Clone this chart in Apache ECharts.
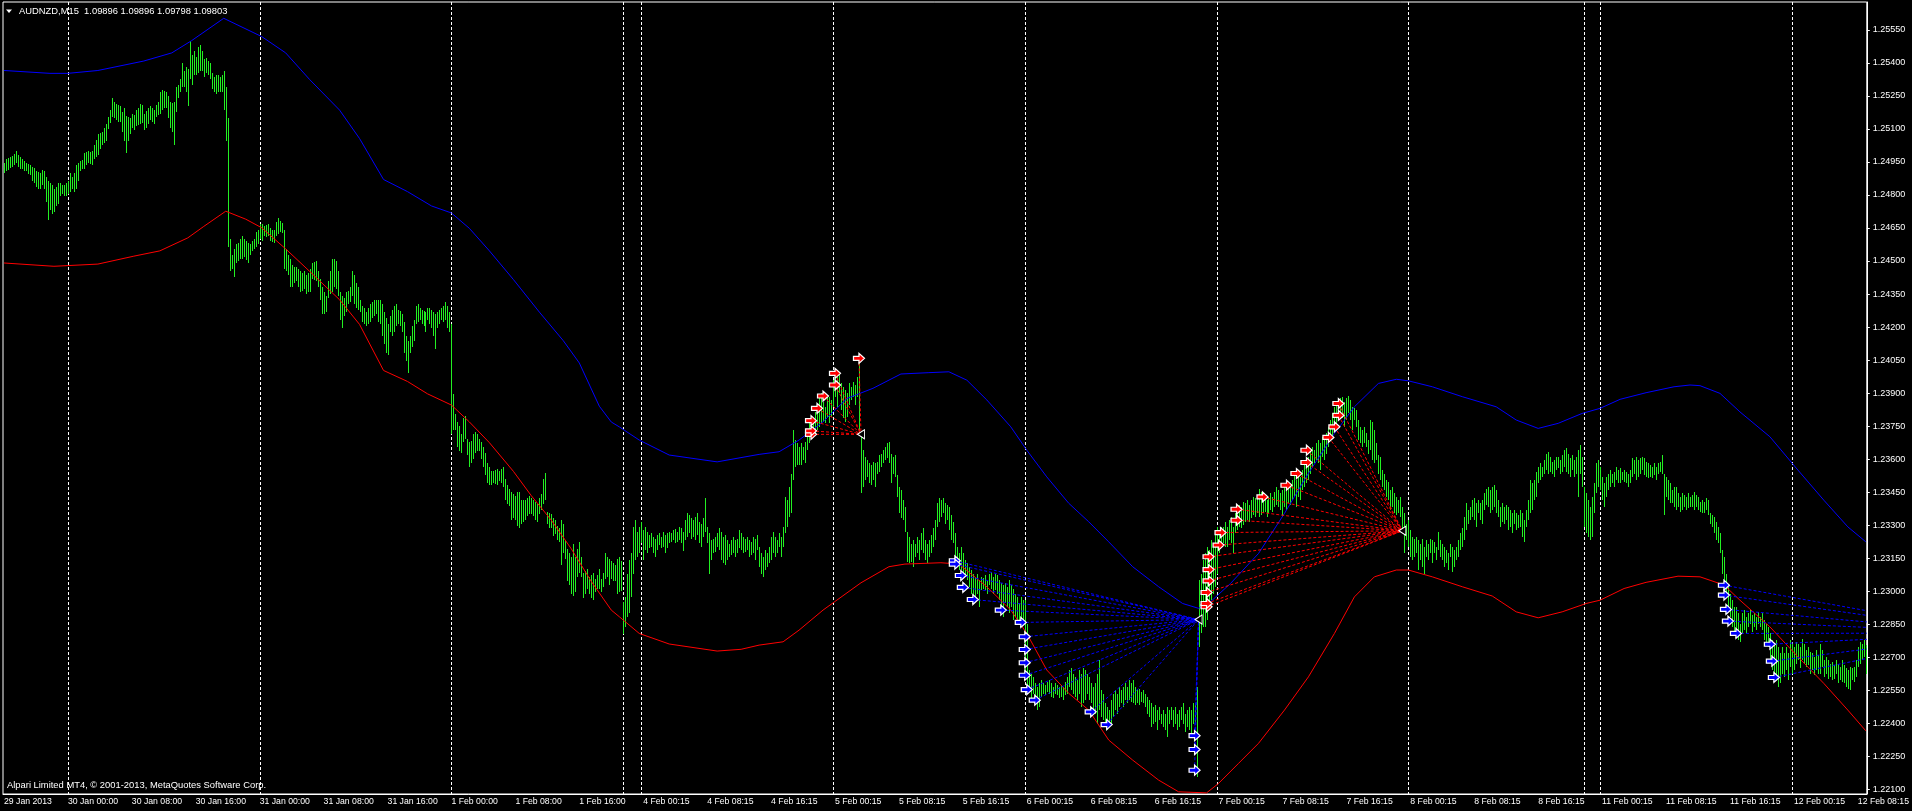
<!DOCTYPE html>
<html>
<head>
<meta charset="utf-8">
<title>AUDNZD,M15</title>
<script src="https://cdn.jsdelivr.net/npm/echarts@6.0.0/dist/echarts.min.js"></script>
<style>
html, body { margin: 0; padding: 0; background: #000; }
#main { width: 1912px; height: 811px; }
</style>
</head>
<body>
<div id="main"></div>
<script>
// bar high / low, in points (0.00001) above 1.22000, one per M15 bar
var PRICE_BASE = 1.22;
var barHigh = [
2945,2964,2969,2973,2977,2988,3001,2982,2973,2964,2954,2945,2940,2936,2927,2921,2908,2903,2899,2914,
2908,2880,2862,2852,2843,2825,2834,2852,2852,2847,2843,2852,2862,2899,2880,2899,2936,2945,2954,2958,
2991,2995,3001,2995,3001,3028,3051,3075,3079,3084,3103,3121,3154,3186,3242,3223,3214,3210,3203,3177,
3195,3158,3154,3149,3167,3162,3186,3195,3214,3210,3167,3180,3195,3205,3195,3186,3210,3223,3269,3277,
3273,3269,3251,3223,3218,3223,3288,3297,3325,3399,3362,3381,3371,3501,3436,3455,3427,3473,3482,3455,
3418,3421,3408,3399,3353,3334,3343,3343,3334,3343,3362,3288,3149,2602,2528,2556,2575,2584,2602,2612,
2602,2593,2584,2575,2593,2602,2630,2640,2667,2667,2658,2662,2667,2649,2640,2643,2677,2695,2680,2673,
2640,2556,2528,2510,2482,2473,2473,2463,2454,2445,2454,2435,2445,2463,2491,2495,2500,2454,2417,2380,
2361,2343,2408,2454,2510,2510,2500,2454,2361,2343,2334,2361,2365,2380,2454,2435,2398,2380,2324,2297,
2287,2269,2287,2306,2315,2321,2324,2321,2324,2306,2269,2241,2213,2250,2278,2297,2306,2278,2272,2259,
2222,2158,2139,2158,2204,2232,2297,2306,2287,2278,2272,2269,2287,2287,2278,2269,2259,2269,2278,2287,
2297,2315,2297,2269,2213,1898,1806,1768,1750,1713,1787,1796,1694,1676,1685,1713,1722,1713,1694,1676,
1657,1630,1583,1565,1546,1546,1550,1556,1546,1556,1565,1509,1481,1463,1453,1444,1435,1453,1453,1416,
1416,1416,1426,1435,1426,1416,1407,1398,1426,1444,1509,1537,1361,1357,1352,1333,1324,1296,1287,1324,
1305,1231,1194,1176,1157,1213,1157,1194,1222,1157,1083,1092,1101,1064,1074,1083,1055,1074,1101,1055,
1083,1176,1157,1148,1138,1129,1120,1148,1157,1140,950,975,1081,1142,1172,1293,1324,1270,1293,1316,
1278,1293,1270,1255,1263,1248,1240,1255,1263,1248,1270,1255,1263,1270,1266,1278,1281,1270,1293,1286,
1270,1323,1354,1346,1331,1323,1339,1354,1316,1308,1331,1422,1293,1263,1233,1240,1248,1263,1286,1270,
1248,1255,1233,1217,1233,1248,1233,1240,1278,1263,1248,1240,1248,1233,1225,1248,1240,1255,1202,1172,
1157,1187,1172,1202,1248,1270,1248,1233,1263,1248,1293,1429,1414,1475,1535,1732,1687,1672,1657,1672,
1657,1679,1732,1778,1793,1770,1816,1838,1876,1899,1861,1838,1891,1884,1868,1959,2005,1975,1990,1944,
1929,1914,1899,1944,1929,1952,1937,1975,2080,1717,1641,1611,1596,1581,1573,1588,1581,1588,1619,1626,
1641,1657,1672,1679,1626,1611,1619,1528,1475,1460,1414,1384,1270,1248,1217,1233,1217,1248,1233,1263,
1286,1233,1217,1233,1255,1286,1323,1399,1422,1414,1422,1399,1392,1384,1346,1316,1263,1202,1172,1202,
1172,1142,1127,1112,1096,1081,1066,1081,1051,1066,1059,1074,1051,1081,1089,1066,1081,1074,1051,1036,
1028,1036,1021,1051,1028,1013,990,975,945,975,960,960,854,642,627,612,582,566,582,597,
582,574,589,597,582,566,582,574,566,574,566,589,612,642,650,627,612,597,642,627,
650,642,627,612,582,566,582,627,688,551,536,491,476,461,506,536,551,536,566,551,
566,582,566,597,582,597,566,551,559,544,551,536,521,506,491,476,483,461,476,445,
461,445,476,461,476,461,476,445,461,476,491,445,461,476,461,491,491,566,1051,1081,
1142,1172,1202,1187,1233,1217,1263,1293,1278,1293,1293,1316,1293,1323,1339,1293,1354,1377,1392,1384,
1407,1399,1414,1392,1414,1429,1422,1437,1467,1452,1429,1437,1414,1429,1445,1429,1452,1475,1460,1445,
1460,1475,1460,1490,1475,1505,1535,1505,1535,1520,1551,1596,1566,1611,1641,1657,1641,1672,1687,1672,
1702,1687,1717,1747,1778,1808,1838,1861,1868,1876,1884,1861,1876,1887,1868,1838,1831,1823,1778,1747,
1732,1747,1717,1687,1778,1770,1732,1672,1619,1611,1551,1535,1505,1498,1460,1475,1445,1429,1414,1429,
1384,1354,1308,1324,1278,1248,1240,1248,1233,1217,1240,1202,1233,1217,1240,1233,1225,1202,1270,1233,
1217,1202,1187,1172,1217,1202,1187,1202,1233,1263,1286,1339,1399,1369,1384,1414,1422,1399,1414,1399,
1414,1445,1467,1475,1460,1475,1482,1460,1414,1384,1399,1384,1392,1384,1369,1354,1369,1354,1346,1369,
1354,1324,1369,1414,1505,1490,1505,1543,1566,1581,1566,1596,1626,1634,1611,1588,1596,1611,1611,1596,
1619,1641,1649,1626,1604,1619,1596,1611,1641,1664,1611,1475,1445,1414,1384,1429,1490,1581,1596,1566,
1520,1490,1520,1535,1551,1535,1543,1566,1551,1558,1543,1551,1543,1535,1551,1604,1596,1611,1596,1604,
1611,1604,1588,1581,1573,1566,1581,1566,1581,1588,1619,1535,1520,1505,1490,1460,1475,1475,1445,1429,
1445,1437,1429,1445,1429,1437,1452,1437,1429,1407,1414,1407,1422,1414,1354,1346,1339,1316,1293,1263,
1187,1157,1081,1021,990,960,930,930,900,854,900,915,884,900,915,892,900,884,907,884,
900,869,854,839,809,778,763,778,748,718,748,718,748,718,778,763,748,771,763,748,
786,763,733,748,725,718,703,733,710,763,733,688,703,688,672,680,665,688,672,657,
688,665,650,642,657,650,657,688,748,771,763,778,756
];
var barLow = [
2899,2908,2914,2921,2927,2936,2945,2927,2917,2917,2908,2908,2895,2890,2862,2852,2834,2829,2825,2843,
2825,2769,2686,2732,2714,2723,2750,2760,2797,2806,2797,2797,2806,2815,2825,2815,2825,2862,2908,2917,
2917,2936,2945,2940,2936,2964,2973,2982,3010,3028,3038,3047,3099,3125,3155,3149,3140,3130,3129,3084,
3047,2991,3047,3075,3103,3093,3112,3117,3121,3125,3093,3103,3121,3140,3130,3121,3155,3162,3167,3186,
3195,3195,3149,3103,3084,3028,3177,3242,3269,3288,3288,3269,3205,3325,3297,3343,3343,3353,3362,3362,
3334,3353,3343,3325,3279,3269,3260,3269,3269,3269,3186,3047,2565,2454,2463,2426,2491,2500,2510,2510,
2519,2506,2491,2528,2547,2556,2565,2575,2602,2593,2612,2610,2612,2593,2588,2584,2612,2621,2630,2625,
2463,2454,2435,2380,2380,2398,2408,2380,2361,2365,2371,2352,2361,2361,2417,2413,2408,2380,2324,2260,
2260,2269,2334,2352,2361,2380,2371,2343,2232,2195,2250,2269,2306,2315,2343,2306,2287,2278,2269,2222,
2213,2204,2213,2222,2241,2250,2259,2222,2213,2158,2121,2084,2074,2176,2158,2176,2204,2213,2204,2176,
2084,2046,1991,2084,2111,2139,2213,2222,2232,2213,2204,2176,2232,2213,2195,2158,2102,2195,2213,2232,
2222,2232,2195,2176,1713,1731,1731,1657,1639,1630,1676,1694,1620,1565,1583,1602,1630,1639,1639,1602,
1565,1528,1491,1481,1481,1491,1487,1481,1500,1491,1472,1416,1398,1389,1324,1333,1324,1296,1287,1305,
1315,1324,1342,1352,1352,1342,1324,1315,1352,1370,1398,1416,1305,1290,1287,1250,1259,1231,1222,1120,
1176,1148,1046,1027,990,981,999,1064,1083,1064,972,990,1009,990,972,962,999,1009,1009,999,
1018,1055,1064,1027,1055,1046,1046,990,999,1000,805,839,884,900,975,1081,1142,1157,1172,1218,
1142,1187,1172,1195,1202,1172,1157,1187,1210,1195,1202,1172,1195,1218,1225,1233,1218,1225,1233,1218,
1184,1233,1248,1263,1240,1248,1233,1255,1218,1202,1248,1270,1218,1081,1142,1172,1180,1202,1187,1142,
1127,1119,1142,1157,1165,1172,1157,1172,1195,1187,1172,1180,1187,1157,1165,1172,1142,1187,1112,1081,
1066,1096,1112,1127,1142,1172,1157,1172,1202,1157,1202,1263,1293,1339,1354,1505,1566,1573,1573,1573,
1596,1581,1641,1672,1702,1710,1717,1732,1747,1763,1770,1763,1793,1763,1793,1838,1884,1838,1899,1823,
1785,1770,1793,1846,1868,1884,1846,1884,1717,1445,1475,1505,1520,1490,1482,1505,1475,1535,1543,1566,
1581,1596,1604,1581,1490,1535,1520,1430,1354,1331,1323,1270,1134,1127,1134,1112,1157,1172,1142,1187,
1172,1142,1127,1157,1172,1202,1233,1293,1316,1339,1354,1308,1323,1278,1233,1218,1157,1127,1096,1096,
1081,1066,1051,1021,990,960,975,990,930,1006,1013,1006,990,1028,1013,990,1006,990,960,930,
884,945,930,900,930,869,884,854,869,839,854,627,536,551,506,536,506,461,476,521,
536,529,544,536,521,514,536,529,514,521,506,529,536,567,551,536,521,506,536,476,
491,506,536,506,491,461,445,400,461,430,415,385,370,385,400,430,461,445,476,491,
476,506,491,506,498,491,483,491,483,498,491,476,445,430,385,400,408,370,415,400,
385,370,340,400,415,385,400,370,385,415,400,362,385,370,355,400,400,158,748,809,
839,839,869,930,960,990,1021,1081,1172,1202,1218,1202,1202,1233,1218,1172,1263,1278,1293,1286,
1301,1316,1323,1316,1331,1346,1339,1354,1339,1346,1354,1361,1339,1354,1369,1361,1384,1392,1384,1369,
1339,1384,1369,1399,1392,1414,1429,1384,1429,1414,1460,1475,1490,1505,1535,1566,1581,1596,1581,1551,
1611,1596,1626,1657,1687,1702,1732,1763,1778,1793,1785,1747,1778,1808,1778,1732,1778,1747,1687,1672,
1657,1672,1657,1626,1641,1596,1581,1596,1535,1505,1475,1460,1429,1414,1369,1384,1354,1346,1354,1339,
1263,1172,1233,1202,1157,1142,1157,1172,1096,1142,1112,1081,1157,1142,1172,1127,1172,1142,1187,1157,
1142,1112,1127,1096,1157,1089,1112,1142,1157,1187,1202,1233,1278,1308,1323,1339,1323,1293,1354,1323,
1308,1369,1392,1384,1354,1369,1384,1354,1339,1293,1316,1308,1323,1278,1293,1263,1308,1278,1286,1293,
1248,1225,1293,1323,1354,1369,1414,1429,1490,1505,1520,1535,1551,1535,1543,1535,1520,1551,1558,1535,
1543,1566,1543,1535,1520,1551,1520,1535,1429,1535,1475,1293,1263,1248,1233,1248,1354,1445,1475,1460,
1414,1384,1429,1460,1475,1490,1475,1505,1490,1490,1505,1498,1490,1475,1490,1520,1535,1505,1520,1535,
1551,1528,1520,1513,1520,1513,1528,1505,1535,1543,1535,1346,1429,1414,1399,1399,1384,1369,1384,1361,
1369,1384,1369,1377,1384,1384,1369,1384,1369,1361,1354,1354,1369,1346,1308,1293,1263,1233,1218,1172,
1081,1021,975,930,884,839,809,794,778,771,809,824,809,839,854,816,839,824,854,839,
824,778,763,748,688,642,597,612,566,582,627,612,642,597,657,627,642,672,688,650,
688,672,657,665,627,642,620,642,627,627,657,612,627,604,612,597,604,627,582,597,
589,582,566,559,551,597,589,612,657,672,688,703,627
];

// time axis: a label every 32 bars
var TICK_STEP = 32;
var tickLabels = ["29 Jan 2013","30 Jan 00:00","30 Jan 08:00","30 Jan 16:00","31 Jan 00:00","31 Jan 08:00",
    "31 Jan 16:00","1 Feb 00:00","1 Feb 08:00","1 Feb 16:00","4 Feb 00:15","4 Feb 08:15","4 Feb 16:15",
    "5 Feb 00:15","5 Feb 08:15","5 Feb 16:15","6 Feb 00:15","6 Feb 08:15","6 Feb 16:15","7 Feb 00:15",
    "7 Feb 08:15","7 Feb 16:15","8 Feb 00:15","8 Feb 08:15","8 Feb 16:15","11 Feb 00:15","11 Feb 08:15",
    "11 Feb 16:15","12 Feb 00:15","12 Feb 08:15"];
var priceTicks = [1.22100,1.22250,1.22400,1.22550,1.22700,1.22850,1.23000,1.23150,1.23300,1.23450,1.23600,
    1.23750,1.23900,1.24050,1.24200,1.24350,1.24500,1.24650,1.24800,1.24950,1.25100,1.25250,1.25400,1.25550];
// day separators (bar index)
var separatorIdx = [32,128,224,310,319,415,511,607,703,791,799,895];

// channel lines [bar index, price]
var upperBand = [[0,1.25365],[23,1.25352],[32,1.25352],[47,1.25365],[70,1.25408],[84,1.25445],[94,1.25501],
    [110,1.25602],[129,1.25519],[141,1.25445],[153,1.25324],[168,1.25185],[178,1.25056],[190,1.24870],
    [202,1.24815],[214,1.24750],[224,1.24718],[233,1.24648],[243,1.24546],[255,1.24416],[268,1.24268],
    [280,1.24138],[288,1.24037],[298,1.23841],[304,1.23769],[308,1.23747],[318,1.23687],[333,1.23619],
    [357,1.23588],[378,1.23622],[388,1.23634],[398,1.23687],[410,1.23770],[422,1.23876],[435,1.23922],
    [449,1.23987],[463,1.23993],[473,1.23997],[482,1.23959],[492,1.23869],[504,1.23747],[512,1.23641],
    [522,1.23520],[533,1.23400],[543,1.23316],[553,1.23225],[565,1.23112],[578,1.23021],[590,1.22945],
    [598,1.22923],[604,1.22953],[614,1.23036],[628,1.23172],[641,1.23354],[653,1.23536],[666,1.23717],
    [676,1.23838],[688,1.23944],[697,1.23963],[703,1.23956],[715,1.23929],[730,1.23884],[747,1.23838],
    [757,1.23778],[768,1.23740],[778,1.23763],[790,1.23808],[799,1.23831],[809,1.23872],[822,1.23902],
    [836,1.23929],[844,1.23937],[849,1.23934],[859,1.23899],[869,1.23815],[884,1.23702],[898,1.23551],
    [911,1.23414],[923,1.23293],[932,1.23225]];
var lowerBand = [[0,1.24491],[25,1.24476],[47,1.24486],[65,1.24522],[78,1.24546],[92,1.24605],[100,1.24657],
    [111,1.24726],[121,1.24690],[129,1.24651],[141,1.24555],[153,1.24453],[168,1.24324],[178,1.24212],
    [190,1.24003],[202,1.23953],[212,1.23897],[224,1.23846],[233,1.23769],[243,1.23675],[255,1.23545],
    [264,1.23434],[274,1.23323],[284,1.23193],[294,1.23045],[304,1.22915],[308,1.22885],[318,1.22809],
    [333,1.22761],[357,1.22729],[369,1.22737],[378,1.22756],[390,1.22771],[398,1.22824],[410,1.22915],
    [429,1.23039],[443,1.23112],[451,1.23124],[469,1.23130],[478,1.23124],[492,1.23021],[504,1.22915],
    [512,1.22809],[522,1.22643],[533,1.22537],[543,1.22461],[553,1.22325],[565,1.22234],[578,1.22143],
    [588,1.22090],[602,1.22085],[608,1.22128],[618,1.22219],[628,1.22310],[641,1.22461],[653,1.22612],
    [666,1.22809],[676,1.22975],[686,1.23066],[697,1.23097],[703,1.23097],[715,1.23066],[730,1.23021],
    [745,1.22979],[757,1.22907],[768,1.22880],[780,1.22907],[792,1.22945],[799,1.22960],[811,1.23013],
    [822,1.23041],[838,1.23069],[849,1.23066],[861,1.23029],[869,1.22960],[884,1.22839],[898,1.22703],
    [911,1.22582],[923,1.22461],[932,1.22367]];

// signal arrows [bar index, price] and the point each fan converges to
var redArrowsA = [[404,1.23713],[404,1.23729],[404,1.23775],[407,1.23831],[410,1.23887],[416,1.23937],
    [416,1.23990],[428,1.24058]];
var redPivotA = [429,1.23713];
var blueArrowsB = [[476,1.23139],[476,1.23124],[479,1.23072],[480,1.23018],[485,1.22963],[499,1.22915],
    [509,1.22859],[511,1.22794],[511,1.22736],[511,1.22676],[511,1.22619],[512,1.22554],[516,1.22506],
    [544,1.22453],[552,1.22395],[596,1.22345],[596,1.22282],[596,1.22188]];
var bluePivotB = [598,1.22872];
var redArrowsC = [[602,1.22930],[602,1.22945],[602,1.22995],[603,1.23048],[603,1.23099],[603,1.23157],
    [608,1.23210],[609,1.23267],[617,1.23323],[617,1.23373],[630,1.23429],[642,1.23482],[647,1.23535],
    [652,1.23585],[652,1.23641],[663,1.23699],[666,1.23747],[668,1.23799],[668,1.23853]];
var redPivotC = [700,1.23275];
var blueArrowsD = [[861,1.23028],[861,1.22983],[862,1.22918],[863,1.22865],[867,1.22809],[884,1.22760],
    [885,1.22683],[886,1.22609]];
var bluePivotD = [995,1.22811];

var GREEN = '#22f022';
var ARROW_PATH = 'path://M0,3L5,3L5,0L10,5L5,10L5,7L0,7Z';
var FONT = '"Liberation Sans", Arial, sans-serif';

var chartApp = {
    toPrice: function (p) {
        return PRICE_BASE + p / 100000;
    },
    barRender: function (params, api) {
        var hi = api.coord([api.value(0), api.value(2)]);
        var lo = api.coord([api.value(0), api.value(1)]);
        var x = Math.round(hi[0]) + 0.5;
        var y1 = Math.round(hi[1]), y2 = Math.round(lo[1]);
        if (y2 - y1 < 1) y2 = y1 + 1;
        return { type: 'line', shape: { x1: x, y1: y1, x2: x, y2: y2 }, style: { stroke: GREEN, lineWidth: 1 } };
    },
    sepRender: function (params, api) {
        var cs = params.coordSys;
        var x = Math.round(api.coord([api.value(0), api.value(1)])[0]) + 0.5;
        return {
            type: 'line',
            shape: { x1: x, y1: cs.y, x2: x, y2: cs.y + cs.height },
            style: { stroke: '#ffffff', lineWidth: 1, lineDash: [3, 2] }
        };
    },
    fanRender: function (pivot, color) {
        return function (params, api) {
            var cs = params.coordSys;
            var a = api.coord([api.value(0), api.value(1)]);
            // pivot may lie past the last bar, so extend the axis scale linearly
            var c0 = api.coord([0, pivot[1]]);
            var c1 = api.coord([100, pivot[1]]);
            var px = c0[0] + (c1[0] - c0[0]) * pivot[0] / 100;
            var py = c0[1];
            var right = cs.x + cs.width;
            if (px > right) {
                var t = (right - a[0]) / (px - a[0]);
                py = a[1] + (py - a[1]) * t;
                px = right;
            }
            return {
                type: 'line',
                shape: { x1: a[0], y1: a[1], x2: px, y2: py },
                style: { stroke: color, lineWidth: 1, lineDash: [3, 2] }
            };
        };
    },
    fanSeries: function (arrows, pivot, color) {
        return {
            type: 'custom',
            renderItem: chartApp.fanRender(pivot, color),
            data: arrows,
            encode: { x: 0, y: 1 },
            silent: true,
            z: 4
        };
    },
    arrowSeries: function (arrows, color) {
        return {
            type: 'scatter',
            data: arrows,
            symbol: ARROW_PATH,
            symbolSize: [11, 10],
            itemStyle: { color: color, borderColor: '#ffffff', borderWidth: 1.2, opacity: 1 },
            silent: true,
            z: 6
        };
    },
    init: function () {
        var cats = [], bars = [];
        for (var i = 0; i < barHigh.length; i++) {
            cats.push(String(i));
            bars.push([i, chartApp.toPrice(barLow[i]), chartApp.toPrice(barHigh[i])]);
        }
        var seps = separatorIdx.map(function (v) { return [v, 1.24]; });
        var everyTick = function (index) { return index % TICK_STEP === 0; };

        return {
            backgroundColor: '#000000',
            animation: false,
            grid: {
                left: 3, right: 42, top: 2, bottom: 17,
                show: true,
                borderColor: '#ffffff',
                borderWidth: 1,
                backgroundColor: '#000000'
            },
            xAxis: {
                type: 'category',
                data: cats,
                boundaryGap: true,
                axisLine: { lineStyle: { color: '#ffffff' } },
                axisTick: { alignWithLabel: true, interval: everyTick, length: 3, lineStyle: { color: '#ffffff' } },
                axisLabel: {
                    interval: everyTick,
                    formatter: function (value, index) {
                        return tickLabels[index / TICK_STEP] || '';
                    },
                    color: '#ffffff',
                    fontSize: 8.7,
                    fontFamily: FONT,
                    align: 'left',
                    margin: 3
                },
                splitLine: { show: false }
            },
            yAxis: {
                type: 'value',
                position: 'right',
                min: 1.2208,
                max: 1.25676,
                scale: true,
                axisLine: { show: true, lineStyle: { color: '#ffffff' } },
                axisTick: { show: true, length: 3, customValues: priceTicks, lineStyle: { color: '#ffffff' } },
                axisLabel: {
                    customValues: priceTicks,
                    formatter: function (v) { return v.toFixed(5); },
                    color: '#ffffff',
                    fontSize: 9,
                    fontFamily: FONT,
                    margin: 6
                },
                splitLine: { show: false }
            },
            graphic: [
                { type: 'polygon', shape: { points: [[6, 9.5], [12, 9.5], [9, 13]] }, style: { fill: '#ffffff' }, z: 10 },
                {
                    type: 'text', x: 19, y: 11, z: 10,
                    style: {
                        text: 'AUDNZD,M15  1.09896 1.09896 1.09798 1.09803',
                        fill: '#ffffff', font: '9.4px ' + FONT, verticalAlign: 'middle'
                    }
                },
                {
                    type: 'text', x: 7, y: 785.5, z: 10,
                    style: {
                        text: 'Alpari Limited MT4, \u00a9 2001-2013, MetaQuotes Software Corp.',
                        fill: '#ffffff', font: '9.4px ' + FONT, verticalAlign: 'middle'
                    }
                }
            ],
            series: [
                {
                    type: 'custom',
                    renderItem: chartApp.sepRender,
                    data: seps,
                    encode: { x: 0, y: 1 },
                    silent: true,
                    z: 1
                },
                {
                    type: 'custom',
                    renderItem: chartApp.barRender,
                    data: bars,
                    encode: { x: 0, y: [1, 2] },
                    silent: true,
                    z: 2
                },
                {
                    type: 'line', data: upperBand, symbol: 'none', silent: true, z: 3,
                    lineStyle: { color: '#0000ff', width: 1 }
                },
                {
                    type: 'line', data: lowerBand, symbol: 'none', silent: true, z: 3,
                    lineStyle: { color: '#ff0000', width: 1 }
                },
                chartApp.fanSeries(redArrowsA, redPivotA, '#ff0000'),
                chartApp.fanSeries(blueArrowsB, bluePivotB, '#0000ff'),
                chartApp.fanSeries(redArrowsC, redPivotC, '#ff0000'),
                chartApp.fanSeries(blueArrowsD, bluePivotD, '#0000ff'),
                chartApp.arrowSeries(redArrowsA.concat(redArrowsC), '#ff0000'),
                chartApp.arrowSeries(blueArrowsB.concat(blueArrowsD), '#0000ff'),
                {
                    type: 'scatter',
                    data: [redPivotA, bluePivotB, redPivotC],
                    symbol: 'path://M10,0L0,5L10,10Z',
                    symbolSize: [7, 9],
                    itemStyle: { color: '#000000', borderColor: '#ffffff', borderWidth: 1, opacity: 1 },
                    silent: true,
                    z: 7
                }
            ]
        };
    }
};

var myChart = echarts.init(document.getElementById('main'));
myChart.setOption(chartApp.init());
</script>
</body>
</html>
